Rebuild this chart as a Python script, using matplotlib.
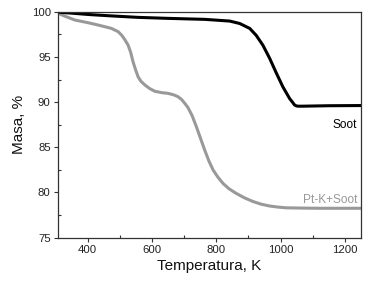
import matplotlib
matplotlib.use("Agg")
import matplotlib.pyplot as plt
from matplotlib.ticker import MultipleLocator

plt.rcParams['font.family'] = ['Liberation Sans', 'DejaVu Sans']

soot_T = [307, 350, 402, 470, 557, 650, 764, 842, 873, 904, 924, 945, 966, 987, 1007, 1028, 1038,
          1043, 1049, 1054, 1070, 1150, 1250]
soot_m = [99.95, 99.85, 99.7, 99.55, 99.38, 99.27, 99.16, 98.97, 98.7, 98.16, 97.4, 96.3, 94.85, 93.2,
          91.7, 90.4, 89.95, 89.7, 89.58, 89.55, 89.55, 89.6, 89.62]

ptk_T = [307, 330, 361, 400, 433, 474, 495, 506, 516, 526, 534, 541, 549, 557, 566, 578, 593, 609, 630,
         650, 668, 681, 692, 702, 712, 725, 738, 751, 764, 777, 790, 805, 821, 840, 862, 888, 914, 940,
         966, 992, 1018, 1070, 1121, 1180, 1250]
ptk_m = [99.85, 99.5, 99.08, 98.8, 98.53, 98.16, 97.8, 97.4, 96.9, 96.3, 95.5, 94.5, 93.6, 92.8, 92.3,
         91.9, 91.5, 91.2, 91.05, 90.97, 90.8, 90.6, 90.3, 89.87, 89.4, 88.5, 87.3, 86.0, 84.7, 83.5,
         82.5, 81.7, 81.0, 80.4, 79.9, 79.4, 79.0, 78.7, 78.5, 78.38, 78.3, 78.27, 78.25, 78.25, 78.25]

fig = plt.figure(figsize=(3.71, 2.87), dpi=100)
ax = fig.add_axes([0.1555, 0.172, 0.8175, 0.787])
ax.plot(ptk_T, ptk_m, color='#999999', lw=2.2, solid_joinstyle='round')
ax.plot(soot_T, soot_m, color='#000000', lw=2.2, solid_joinstyle='round')

ax.set_xlim(307, 1250)
ax.set_ylim(75, 100)
ax.xaxis.set_major_locator(MultipleLocator(200))
ax.xaxis.set_minor_locator(MultipleLocator(100))
ax.yaxis.set_major_locator(MultipleLocator(5))
ax.yaxis.set_minor_locator(MultipleLocator(2.5))
ax.tick_params(which='major', direction='out', length=3, width=0.8, labelsize=8.2, colors='#333333', labelcolor='#222222', pad=2)
ax.tick_params(which='minor', direction='in', length=2, width=0.8, colors='#333333')
for s in ax.spines.values():
    s.set_color('#333333')
    s.set_linewidth(0.9)

ax.set_xlabel('Temperatura, K', fontsize=11, color='#111111', labelpad=3)
ax.set_ylabel('Masa, %', fontsize=11, color='#111111', labelpad=4)

ax.text(1238, 87.45, 'Soot', fontsize=8.6, color='#000000', ha='right', va='center')
ax.text(1238, 79.15, 'Pt-K+Soot', fontsize=8.6, color='#999999', ha='right', va='center')

fig.savefig('out.png', dpi=100)
